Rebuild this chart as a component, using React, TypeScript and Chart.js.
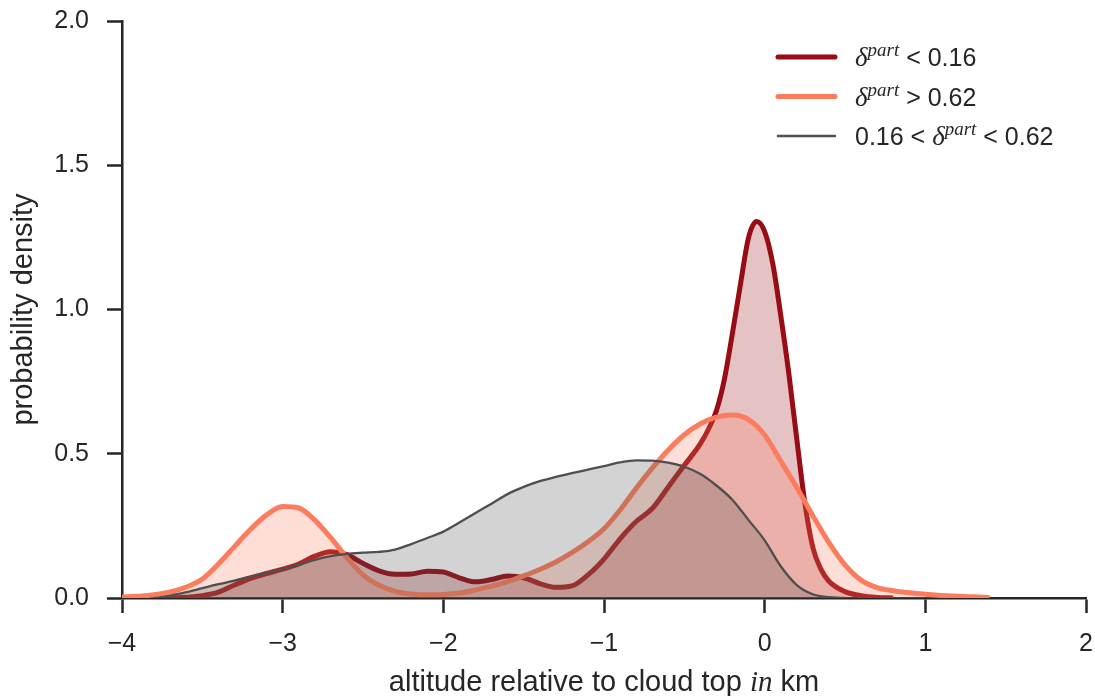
import React, { useEffect, useRef } from 'react';
import { Chart, registerables } from 'chart.js';

Chart.register(...registerables);

// Kernel density estimates of altitude relative to cloud top (km), three depolarisation classes.
const lowX = [
  -3.7, -3.6, -3.5, -3.4, -3.3, -3.2, -3.1, -3.0, -2.9, -2.8, -2.7, -2.6, -2.5, -2.4, -2.3, -2.2,
  -2.1, -2.0, -1.9, -1.8, -1.7, -1.6, -1.5, -1.4, -1.3, -1.2, -1.1, -1.0, -0.9, -0.8, -0.7, -0.6,
  -0.5, -0.4, -0.35, -0.3, -0.25, -0.2, -0.15, -0.1, -0.05, 0.0, 0.05, 0.1, 0.15, 0.2, 0.25, 0.3,
  0.35, 0.4, 0.5, 0.6, 0.7, 0.8,
];
const lowY = [
  0.0, 0.003, 0.008, 0.02, 0.045, 0.068, 0.085, 0.1, 0.118, 0.145, 0.16, 0.15, 0.12, 0.094, 0.082, 0.083,
  0.093, 0.09, 0.07, 0.056, 0.064, 0.076, 0.07, 0.05, 0.037, 0.042, 0.08, 0.135, 0.205, 0.265, 0.31, 0.385,
  0.46, 0.535, 0.585, 0.65, 0.76, 0.92, 1.09, 1.25, 1.305, 1.27, 1.16, 0.98, 0.78, 0.55, 0.33, 0.175,
  0.1, 0.058, 0.022, 0.008, 0.002, 0.0,
];

const highX = [
  -4.0, -3.9, -3.8, -3.7, -3.6, -3.5, -3.4, -3.3, -3.2, -3.1, -3.0, -2.9, -2.8, -2.7, -2.6, -2.5,
  -2.4, -2.3, -2.2, -2.1, -2.0, -1.9, -1.8, -1.7, -1.6, -1.5, -1.4, -1.3, -1.2, -1.1, -1.0, -0.9,
  -0.8, -0.7, -0.6, -0.5, -0.4, -0.3, -0.2, -0.1, 0.0, 0.1, 0.2, 0.3, 0.4, 0.5, 0.6, 0.7,
  0.8, 0.9, 1.0, 1.1, 1.2, 1.3, 1.4,
];
const highY = [
  0.003, 0.006, 0.011, 0.021, 0.038, 0.066, 0.118, 0.178, 0.238, 0.288, 0.317, 0.312, 0.27, 0.208, 0.14, 0.08,
  0.044, 0.023, 0.014, 0.011, 0.012, 0.017, 0.028, 0.041, 0.057, 0.077, 0.099, 0.125, 0.157, 0.195, 0.24, 0.305,
  0.38, 0.45, 0.513, 0.566, 0.604, 0.627, 0.634, 0.618, 0.565, 0.475, 0.383, 0.285, 0.192, 0.115, 0.062, 0.036,
  0.025, 0.018, 0.013, 0.009, 0.006, 0.004, 0.002,
];

const midX = [
  -3.8, -3.7, -3.6, -3.5, -3.4, -3.3, -3.2, -3.1, -3.0, -2.9, -2.8, -2.7, -2.6, -2.5, -2.4, -2.3,
  -2.2, -2.1, -2.0, -1.9, -1.8, -1.7, -1.6, -1.5, -1.4, -1.3, -1.2, -1.1, -1.0, -0.9, -0.8, -0.7,
  -0.6, -0.5, -0.4, -0.3, -0.2, -0.1, 0.0, 0.1, 0.2, 0.3, 0.4, 0.5,
];
const midY = [
  0.0, 0.008, 0.02, 0.034, 0.048, 0.06, 0.075, 0.088, 0.1, 0.115, 0.132, 0.145, 0.153, 0.157, 0.16, 0.168,
  0.187, 0.208, 0.23, 0.262, 0.295, 0.327, 0.36, 0.385, 0.405, 0.42, 0.433, 0.445, 0.457, 0.47, 0.477, 0.476,
  0.469, 0.455, 0.43, 0.39, 0.34, 0.27, 0.2, 0.11, 0.045, 0.013, 0.003, 0.0,
];

const xLimits = [-4, 2];
const yLimits = [0, 2];
const xStep = 1;
const yStep = 0.5;

const seriesLabels = ['δpart < 0.16', 'δpart > 0.62', '0.16 < δpart < 0.62'];
const xTitleParts = ['altitude relative to cloud top ', 'in', ' km'];
const yTitle = 'probability density';

const RED = '#980c15';
const ORANGE = '#fb7d5d';
const GREY = '#4f4f4f';
const AXIS = '#262626';

const SANS = '"Liberation Sans", Arial, sans-serif';
const SERIF = '"Liberation Serif", "DejaVu Serif", serif';

type Run = { text: string; font: string; rise?: number };

const textFont = `25px ${SANS}`;
const deltaFont = `italic 27px ${SERIF}`;
const supFont = `italic 19px ${SERIF}`;
const delta: Run[] = [
  { text: 'δ', font: deltaFont },
  { text: 'part', font: supFont, rise: 10 },
];

const legendRows: { color: string; width: number; runs: Run[] }[] = [
  { color: RED, width: 5, runs: [...delta, { text: ' < 0.16', font: textFont }] },
  { color: ORANGE, width: 5, runs: [...delta, { text: ' > 0.62', font: textFont }] },
  {
    color: GREY,
    width: 2.5,
    runs: [{ text: '0.16 < ', font: textFont }, ...delta, { text: ' < 0.62', font: textFont }],
  },
];

function runsWidth(ctx: CanvasRenderingContext2D, runs: Run[]) {
  let w = 0;
  for (const r of runs) {
    ctx.font = r.font;
    w += ctx.measureText(r.text).width;
  }
  return w;
}

function drawRuns(ctx: CanvasRenderingContext2D, runs: Run[], x: number, y: number) {
  let cx = x;
  for (const r of runs) {
    ctx.font = r.font;
    ctx.fillText(r.text, cx, y - (r.rise || 0));
    cx += ctx.measureText(r.text).width;
  }
}

const annotations = {
  id: 'annotations',
  afterDraw(chart: Chart) {
    const { ctx, chartArea } = chart;
    ctx.save();
    ctx.fillStyle = AXIS;
    ctx.textBaseline = 'alphabetic';
    ctx.textAlign = 'left';

    // x-axis title with the italic math word
    const titleRuns: Run[] = [
      { text: xTitleParts[0], font: `29px ${SANS}` },
      { text: xTitleParts[1], font: `italic 29px ${SERIF}` },
      { text: xTitleParts[2], font: `29px ${SANS}` },
    ];
    const tw = runsWidth(ctx, titleRuns);
    const cx = (chartArea.left + chartArea.right) / 2;
    drawRuns(ctx, titleRuns, cx - tw / 2, 691);

    // legend
    const lineX0 = chartArea.right - 308;
    const lineX1 = lineX0 + 57;
    const textX = lineX1 + 20;
    legendRows.forEach((row, i) => {
      const y = 57 + i * 39.5;
      ctx.strokeStyle = row.color;
      ctx.lineWidth = row.width;
      ctx.lineCap = 'round';
      ctx.beginPath();
      ctx.moveTo(lineX0, y);
      ctx.lineTo(lineX1, y);
      ctx.stroke();
      ctx.fillStyle = AXIS;
      drawRuns(ctx, row.runs, textX, y + 9);
    });
    ctx.restore();
  },
};

function toPoints(xs: number[], ys: number[]) {
  return xs.map((x, i) => ({ x, y: ys[i] }));
}

export default function App() {
  const canvasRef = useRef<HTMLCanvasElement | null>(null);

  useEffect(() => {
    document.body.style.margin = '0';
    const canvas = canvasRef.current;
    if (!canvas) return;

    const tickFont = { family: SANS, size: 25 };
    const axisGrid = {
      display: true,
      drawOnChartArea: false,
      drawTicks: true,
      tickLength: 15,
      tickWidth: 2.5,
      tickColor: AXIS,
    };
    const chart = new Chart(canvas, {
      type: 'line',
      data: {
        datasets: [
          {
            label: seriesLabels[0],
            data: toPoints(lowX, lowY),
            borderColor: RED,
            backgroundColor: 'rgba(152,12,21,0.25)',
            borderWidth: 5,
            fill: 'origin',
            pointRadius: 0,
            cubicInterpolationMode: 'monotone',
            order: 3,
          },
          {
            label: seriesLabels[1],
            data: toPoints(highX, highY),
            borderColor: ORANGE,
            backgroundColor: 'rgba(251,125,93,0.25)',
            borderWidth: 5,
            fill: 'origin',
            pointRadius: 0,
            cubicInterpolationMode: 'monotone',
            order: 2,
          },
          {
            label: seriesLabels[2],
            data: toPoints(midX, midY),
            borderColor: GREY,
            backgroundColor: 'rgba(79,79,79,0.25)',
            borderWidth: 2.3,
            fill: 'origin',
            pointRadius: 0,
            cubicInterpolationMode: 'monotone',
            order: 1,
          },
        ],
      },
      options: {
        animation: false,
        responsive: false,
        devicePixelRatio: 1,
        layout: { padding: { left: 0, top: 21, right: 9, bottom: 0 } },
        plugins: { legend: { display: false }, tooltip: { enabled: false } },
        scales: {
          x: {
            type: 'linear',
            min: xLimits[0],
            max: xLimits[1],
            ticks: {
              stepSize: xStep,
              padding: 16,
              font: tickFont,
              color: AXIS,
              autoSkip: false,
              maxRotation: 0,
              callback: (v: any) => (Number(v) < 0 ? '\u2212' + Math.abs(Number(v)) : String(v)),
            },
            grid: axisGrid,
            border: { display: true, color: AXIS, width: 2.5 },
            afterFit: (s: any) => {
              s.height = 98;
              s.paddingLeft = 0;
              s.paddingRight = 0;
            },
          },
          y: {
            type: 'linear',
            min: yLimits[0],
            max: yLimits[1],
            ticks: {
              stepSize: yStep,
              padding: 18,
              font: tickFont,
              color: AXIS,
              callback: (v: any) => Number(v).toFixed(1),
            },
            grid: axisGrid,
            border: { display: true, color: AXIS, width: 2.5 },
            title: {
              display: true,
              text: yTitle,
              font: { family: SANS, size: 29 },
              color: AXIS,
              padding: { top: 7, bottom: 0 },
            },
            afterFit: (s: any) => {
              s.width = 122;
              s.paddingTop = 0;
              s.paddingBottom = 0;
            },
          },
        },
      },
      plugins: [annotations],
    });

    return () => chart.destroy();
  }, []);

  return (
    <div style={{ width: 1095, height: 696 }}>
      <canvas ref={canvasRef} width={1095} height={696} />
    </div>
  );
}
